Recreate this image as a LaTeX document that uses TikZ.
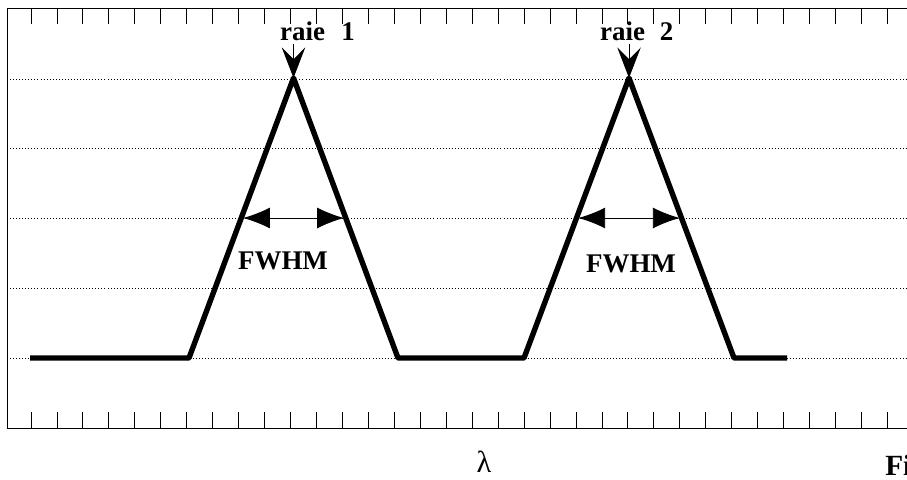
\documentclass[tikz,border=0pt]{standalone}
\usepackage{fontspec}
\setmainfont{Liberation Serif}
\usetikzlibrary{arrows.meta,calc,positioning}

\begin{document}
\begin{tikzpicture}[x=0.03cm,y=-0.03cm,>=Latex,
  grille/.style={line width=0.5pt,dash pattern=on 0.8pt off 1.8pt},
  profil/.style={line width=4.6pt,line join=round},
  lbl/.style={font=\fontsize{23}{27}\selectfont\bfseries,inner sep=0pt}]
\useasboundingbox (0,0) rectangle (907,479);
% cadre et graduations
\draw[line width=0.7pt] (930,8)--(7,8)--(7,428)--(930,428);
\foreach \i in {0,...,33}{\draw[line width=0.7pt] (31+25.95*\i,8)--++(0,16) (31+25.95*\i,428)--++(0,-16);}
\foreach \y in {79,148.5,218,288,358}{\draw[grille] (7,\y)--(930,\y);}
% profil des raies
\coordinate (a0) at (30,358);
\coordinate (a1) at (189,358);
\coordinate (p1) at (293.5,78);
\coordinate (a2) at (398,358);
\coordinate (a3) at (524,358);
\coordinate (p2) at (629,78);
\coordinate (a4) at (734,358);
\coordinate (a5) at (787,358);
\draw[profil] (a0)--(a1)--(p1)--(a2)--(a3)--(p2)--(a4)--(a5);
% largeurs a mi-hauteur
\draw[<->,line width=0.8pt,>={Latex[length=23pt,width=18pt]},shorten <=1.5pt,shorten >=1.5pt]
  ($(a1)!.5!(p1)$)--($(p1)!.5!(a2)$);
\draw[<->,line width=0.8pt,>={Latex[length=23pt,width=18pt]},shorten <=1.5pt,shorten >=1.5pt]
  ($(a3)!.5!(p2)$)--($(p2)!.5!(a4)$);
\node[lbl,anchor=base] (w1) at (283,269) {FWHM};
\node[lbl,anchor=base] (w2) at (631,272) {FWHM};
% etiquettes
\node[lbl,anchor=base west] (r1) at (280,41) {raie\hspace{.6em}1};
\node[lbl,anchor=base west] (r2) at (600,41) {raie\hspace{.55em}2};
\draw[->,line width=0.8pt,>={Stealth[length=26pt,width=20pt,inset=10pt]},shorten <=2pt] (r1.south -| p1)--(p1);
\draw[->,line width=0.8pt,>={Stealth[length=26pt,width=20pt,inset=10pt]},shorten <=2pt] (r2.south -| p2)--(p2);
\node[font=\fontsize{26}{30}\selectfont] (lam) at (484,462) {λ};
\node[font=\fontsize{25}{29}\selectfont\bfseries,inner sep=0pt,anchor=base west] (fig) at (885,475) {Fi};
\end{tikzpicture}
\end{document}
